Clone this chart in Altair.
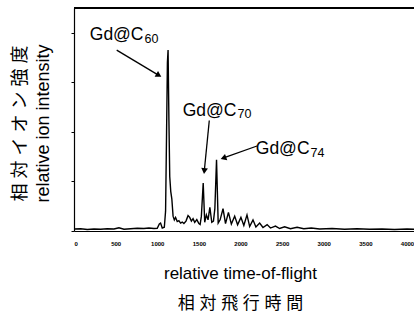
import math
import altair as alt
import pandas as pd

# ---- spectrum ----
tof = [0, 80, 160, 240, 320, 400, 480, 540, 600, 680, 760, 840, 900, 960, 1000,
       1025, 1040, 1060, 1085, 1100, 1112, 1122, 1130, 1140, 1150, 1162, 1175,
       1190, 1205, 1220, 1240, 1260, 1280, 1300, 1320, 1345, 1370, 1390, 1410,
       1430, 1450, 1475, 1500, 1515, 1530, 1552, 1570, 1590, 1610, 1632, 1655,
       1675, 1692, 1712, 1732, 1755, 1790, 1820, 1855, 1890, 1930, 1965, 2005,
       2040, 2078, 2110, 2150, 2185, 2230, 2270, 2320, 2360, 2420, 2470, 2530,
       2600, 2680, 2760, 2850, 2950, 3100, 3250, 3400, 3550, 3700, 3850, 4000, 4084]
intensity = [0.8, 0.9, 0.6, 0.8, 0.7, 0.9, 0.8, 1.3, 0.7, 0.9, 1.1, 1.0, 1.2, 1.0, 1.1,
             2.8, 3.2, 1.2, 1.5, 8, 40, 68, 73, 45, 22, 16, 13,
             6, 4.5, 5.5, 3.8, 4.2, 3.2, 3.6, 3.0, 4.0, 6.2, 5.5, 4.0,
             5.0, 3.5, 4.6, 3.0, 2.6, 6, 19.4, 3.5, 6.5, 4.5, 9.5, 3.5,
             4.0, 9, 28.7, 3.2, 4.5, 9.0, 3.0, 7.5, 2.8, 6.0, 2.5, 5.5,
             2.2, 6.5, 1.8, 4.5, 1.6, 3.2, 1.4, 2.6, 1.2, 2.0, 1.0, 1.7,
             0.9, 1.5, 0.9, 1.2, 0.8, 1.0, 0.7, 0.9, 0.7, 0.8, 0.6, 0.8, 0.7]

x_ticks = [0, 500, 1000, 1500, 2000, 2500, 3000, 3500, 4000]
y_ticks = [0, 20, 40, 60, 80]

# ---- annotations (data units) ----
label_main = ["Gd@C", "Gd@C", "Gd@C"]
label_sub = ["60", "70", "74"]
label_tof = [835, 1952, 2829]
label_int = [77.1, 46.5, 31.1]
sub_int = [75.9, 45.5, 29.9]
arrow_start_tof = [513, 1625, 2198]
arrow_start_int = [73.0, 44.6, 34.3]
arrow_tip_tof = [1045, 1562, 1766]
arrow_tip_int = [62.3, 23.2, 29.1]

X_MAX = 4084
Y_MAX = 90
W = 340
H = 223

spec = pd.DataFrame({"tof": tof, "intensity": intensity})
labels = pd.DataFrame({"tof": label_tof, "intensity": label_int,
                       "sub_int": sub_int, "main": label_main, "sub": label_sub})

rows = []
for ts, is_, tt, it in zip(arrow_start_tof, arrow_start_int, arrow_tip_tof, arrow_tip_int):
    dx = (tt - ts) * W / X_MAX
    dy = -(it - is_) * H / Y_MAX
    L = math.hypot(dx, dy)
    ux, uy = dx / L, dy / L
    back = 3.5
    ct = tt - back * ux * X_MAX / W
    ci = it + back * uy * Y_MAX / H
    ang = math.degrees(math.atan2(dx, -dy)) % 360
    rows.append({"tof": ts, "intensity": is_, "tof2": ct, "intensity2": ci,
                 "ctof": ct, "cint": ci, "angle": ang})
arrows = pd.DataFrame(rows)

xs = alt.Scale(domain=[0, X_MAX], nice=False, zero=False)
ys = alt.Scale(domain=[0, Y_MAX], nice=False, zero=False)
FONT = "Liberation Sans, Noto Sans CJK JP"

line = alt.Chart(spec).mark_line(color="black", strokeWidth=1.4).encode(
    x=alt.X("tof:Q", scale=xs, axis=alt.Axis(
        values=x_ticks, format="d", labelFontSize=6, labelFontWeight="bold",
        labelColor="black", tickSize=0, labelPadding=9, grid=False,
        domainColor="black", domainWidth=1.2, labelFont="Liberation Sans",
        title=["relative time-of-flight", "相 対 飛 行 時 間"],
        titleFont=FONT, titleFontSize=17, titleFontWeight="normal",
        titleColor="black", titleLineHeight=30, titleBaseline="alphabetic",
        titleY=47, titleX=166)),
    y=alt.Y("intensity:Q", scale=ys, axis=alt.Axis(
        values=y_ticks, labels=False, tickSize=3, tickColor="black", grid=False,
        domainColor="black", domainWidth=1.2,
        title=["相 対 イ オ ン 強 度", "relative ion intensity"],
        titleFont=FONT, titleFontSize=18, titleFontWeight="normal",
        titleColor="black", titleAngle=270, titleLineHeight=23,
        titleBaseline="alphabetic", titleX=-49, titleY=115)),
)

# top edge of the frame (the reference shows no right edge)
top_edge = alt.Chart(spec).mark_rule(color="black", strokeWidth=1.2).encode(
    x=alt.value(0), x2=alt.value(W + 4), y=alt.value(0))

main_txt = alt.Chart(labels).mark_text(
    align="right", baseline="alphabetic", fontSize=17.5, font="Liberation Sans",
    color="black").encode(
    x=alt.X("tof:Q", scale=xs),
    y=alt.Y("intensity:Q", scale=ys),
    text="main:N")

sub_txt = alt.Chart(labels).mark_text(
    align="left", baseline="alphabetic", fontSize=12.5, font="Liberation Sans",
    color="black", dx=1).encode(
    x=alt.X("tof:Q", scale=xs),
    y=alt.Y("sub_int:Q", scale=ys),
    text="sub:N")

arrow_line = alt.Chart(arrows).mark_rule(color="black", strokeWidth=1.3).encode(
    x=alt.X("tof:Q", scale=xs),
    y=alt.Y("intensity:Q", scale=ys),
    x2="tof2:Q", y2="intensity2:Q")

arrow_head = alt.Chart(arrows).mark_point(
    shape="triangle", filled=True, color="black", size=45, opacity=1).encode(
    x=alt.X("ctof:Q", scale=xs),
    y=alt.Y("cint:Q", scale=ys),
    angle=alt.Angle("angle:Q", scale=None))

chart = alt.layer(line, top_edge, arrow_line, arrow_head, main_txt, sub_txt).properties(
    width=W, height=H,
    autosize=alt.AutoSizeParams(type="none"),
    padding={"left": 74, "top": 8, "right": 0, "bottom": 91},
    background="white",
).configure_view(stroke=None)

chart.save("out.html", embed_options={"renderer": "svg", "actions": False})
